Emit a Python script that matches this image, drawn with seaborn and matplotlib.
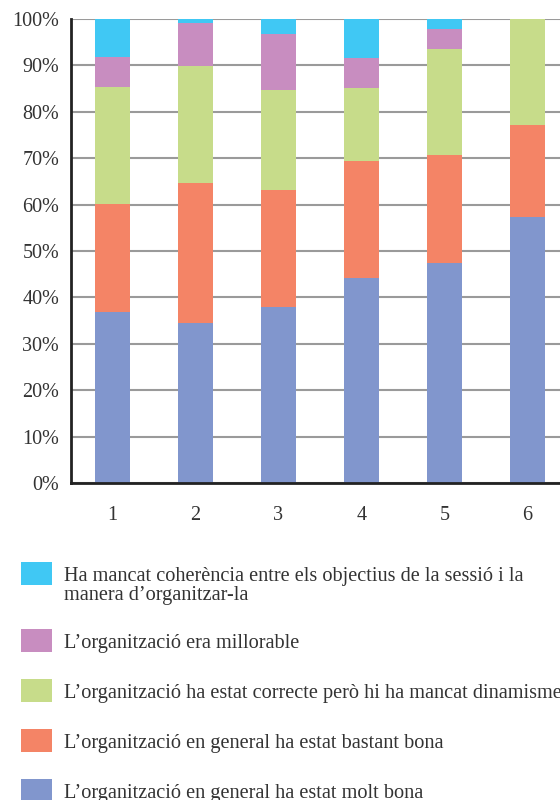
import numpy as np
import pandas as pd
import matplotlib
matplotlib.use("Agg")
import matplotlib.pyplot as plt
from matplotlib.patches import Rectangle
import seaborn as sns

# session numbers on the x axis
sessions = ["1", "2", "3", "4", "5", "6"]

# percentages per answer, bottom to top of each stack
molt_bona = [36.9, 34.5, 37.9, 44.2, 47.4, 57.3]
bastant_bona = [23.2, 30.1, 25.2, 25.2, 23.3, 19.8]
correcte = [25.2, 25.2, 21.6, 15.7, 22.8, 22.9]
millorable = [6.4, 9.3, 12.1, 6.4, 4.3, 0.0]
coherencia = [8.3, 0.9, 3.2, 8.5, 2.2, 0.0]

labels = [
    "L\u2019organització en general ha estat molt bona",
    "L\u2019organització en general ha estat bastant bona",
    "L\u2019organització ha estat correcte però hi ha mancat dinamisme",
    "L\u2019organització era millorable",
    "Ha mancat coherència entre els objectius de la sessió i la\nmanera d\u2019organitzar-la",
]
colors = ["#8196CD", "#F48466", "#C7DC8A", "#C88DC0", "#40C8F4"]

series = [molt_bona, bastant_bona, correcte, millorable, coherencia]

sns.set_style("white")
plt.rcParams["font.family"] = ["Liberation Serif", "DejaVu Serif"]
text_color = "#333333"

fig = plt.figure(figsize=(5.6, 8), dpi=100)
ax = fig.add_axes([71 / 560, 1 - 483.3 / 800, 498 / 560, (483.3 - 18.7) / 800])

# stacked bars: draw cumulative totals from the top down
cum = np.cumsum(np.array(series), axis=0)
for i in range(len(series) - 1, -1, -1):
    df = pd.DataFrame({"session": sessions, "value": cum[i]})
    sns.barplot(data=df, x="session", y="value", order=sessions,
                color=colors[i], saturation=1, width=0.41, ax=ax,
                edgecolor="none", linewidth=0)

ax.set_xlim(-0.5, 5.5)
ax.set_ylim(0, 100)
ax.set_yticks(np.arange(0, 101, 10))
ax.set_yticklabels([f"{v}%" for v in range(0, 101, 10)])
ax.set_xlabel("")
ax.set_ylabel("")
ax.yaxis.grid(True, color="#9a9a9a", linewidth=1.5)
ax.set_axisbelow(True)

ax.set_xticks(np.arange(-0.5, 6, 1), minor=True)
ax.tick_params(axis="x", which="major", length=0, pad=16, labelsize=14.5, labelcolor=text_color)
ax.tick_params(axis="x", which="minor", length=6, width=1.2, color="#333333", direction="out")
ax.tick_params(axis="y", length=7, width=1.5, color="#9a9a9a", direction="out",
               labelsize=14.5, labelcolor=text_color, pad=1.5)

for s in ["top", "right"]:
    ax.spines[s].set_visible(False)
for s in ["left", "bottom"]:
    ax.spines[s].set_color("#222222")
    ax.spines[s].set_linewidth(2)

# legend below the chart, top entry first
y = 562
for lab, col in zip(labels[::-1], colors[::-1]):
    fig.patches.append(Rectangle((21 / 560, 1 - (y + 23) / 800), 31 / 560, 23 / 800,
                                 transform=fig.transFigure, facecolor=col, edgecolor="none"))
    fig.text(64 / 560, 1 - (y + 5) / 800, lab, ha="left", va="top", fontsize=14.6,
             color=text_color, linespacing=1.0)
    y += 50 + 17 * lab.count("\n")

fig.savefig("out.png", dpi=100)
